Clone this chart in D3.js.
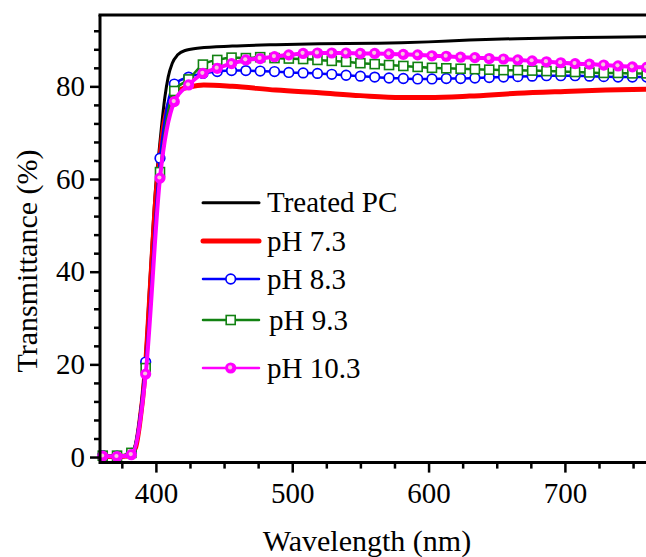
<!DOCTYPE html>
<html>
<head>
<meta charset="utf-8">
<script src="https://cdn.jsdelivr.net/npm/d3@7"></script>
<style>
  html, body { margin: 0; padding: 0; background: #fff; }
  svg { display: block; }
</style>
</head>
<body>
<svg id="chart" width="646" height="557"></svg>
<script>
// ---- data ----
const seriesNames = ["Treated PC", "pH 7.3", "pH 8.3", "pH 9.3", "pH 10.3"];

const wlTreated = [360, 370, 380, 385, 388, 392, 396, 400, 402, 404, 406.5, 409, 412, 416, 422, 432, 456, 488, 520, 560, 580, 600, 630, 665, 700, 730, 760];
const treatedPC = [0.1, 0.1, 0.4, 2.5, 8, 20, 40, 59, 65, 71, 77.5, 82, 85, 86.8, 87.8, 88.3, 88.7, 89.0, 89.2, 89.3, 89.4, 89.6, 90.0, 90.3, 90.5, 90.6, 90.7];

const wlPH73 = [360, 370, 380, 385, 388, 392, 396, 400, 403, 406, 410, 414, 418, 425, 435, 456, 488, 520, 550, 580, 600, 630, 665, 700, 730, 760];
const ph73 = [0.1, 0.1, 0.3, 2, 7, 18, 37, 56, 65, 72, 76.5, 78.5, 79.3, 79.9, 80.3, 80.0, 79.2, 78.6, 78.0, 77.6, 77.6, 77.9, 78.5, 78.9, 79.2, 79.4];

const wlMarked = [361, 371.5, 382, 392.5, 403, 413.5, 424, 434.5, 445, 455.5, 466, 476.5, 487, 497.5, 508, 518.5, 529, 539.5, 550, 560.5, 571, 581.5, 592, 602.5, 613, 623.5, 634, 644.5, 655, 665.5, 676, 686.5, 697, 707.5, 718, 728.5, 739, 749.5, 760];
const ph83 = [0.3, 0.2, 0.8, 20.5, 64.5, 80.5, 82.0, 82.8, 83.2, 83.4, 83.4, 83.3, 83.2, 83.0, 82.9, 82.8, 82.6, 82.4, 82.2, 82.0, 81.8, 81.7, 81.6, 81.6, 81.7, 81.7, 81.8, 81.9, 82.0, 82.1, 82.2, 82.3, 82.3, 82.3, 82.2, 82.1, 82.0, 82.0, 82.0];
const ph93 = [0.3, 0.3, 0.9, 19.2, 61.5, 79.0, 81.5, 84.7, 85.7, 86.2, 86.1, 86.3, 86.1, 86.0, 85.9, 85.7, 85.5, 85.3, 85.0, 84.8, 84.6, 84.4, 84.2, 84.0, 83.9, 83.8, 83.7, 83.6, 83.5, 83.5, 83.4, 83.3, 83.2, 83.1, 83.0, 82.9, 82.9, 82.8, 82.8];
const ph103 = [0.2, 0.1, 0.5, 17.9, 60.2, 76.7, 80.3, 82.8, 83.9, 84.9, 85.7, 86.0, 86.4, 86.8, 87.1, 87.2, 87.2, 87.2, 87.1, 87.1, 87.0, 86.9, 86.8, 86.6, 86.5, 86.3, 86.2, 86.0, 85.9, 85.7, 85.5, 85.3, 85.1, 84.9, 84.8, 84.6, 84.4, 84.2, 84.1];

const xMajorTicks = [400, 500, 600, 700];
const xMinorTicks = [375, 425, 450, 475, 525, 550, 575, 625, 650, 675, 725, 750];
const yMajorTicks = [0, 20, 40, 60, 80];
const yMinorTicks = [4, 8, 12, 16, 24, 28, 32, 36, 44, 48, 52, 56, 64, 68, 72, 76, 84, 88, 92];

const xTitle = "Wavelength (nm)";
const yTitle = "Transmittance (%)";

const FONT = "'Liberation Serif', Tinos, 'Nimbus Roman', 'Times New Roman', 'DejaVu Serif', serif";

// ---- layout ----
const svg = d3.select("#chart");
const padL = 100, padT = 15, axisY = 462.6, rightPx = 646.7;
const x = d3.scaleLinear().domain([359, 760]).range([padL, rightPx]);
const y = d3.scaleLinear().domain([-1.2, 95.4]).range([axisY, padT]);

svg.append("defs").append("clipPath").attr("id", "plotClip")
  .append("rect").attr("x", padL - 8).attr("y", padT).attr("width", 646 - padL + 8).attr("height", axisY - padT);

const plot = svg.append("g").attr("clip-path", "url(#plotClip)");

const lineGen = (xs) => d3.line()
  .x((d, i) => x(xs[i]))
  .y(d => y(d))
  .curve(d3.curveMonotoneX);

const colors = { treated: "#000000", ph73: "#ff0000", ph83: "#0000ff", ph93: "#128212", ph103: "#ff00ff" };

// Treated PC
plot.append("path").datum(treatedPC).attr("d", lineGen(wlTreated))
  .attr("fill", "none").attr("stroke", colors.treated).attr("stroke-width", 3);
// pH 7.3
plot.append("path").datum(ph73).attr("d", lineGen(wlPH73))
  .attr("fill", "none").attr("stroke", colors.ph73).attr("stroke-width", 5);

function circleOpen(g, cx, cy, col) {
  g.append("circle").attr("cx", cx).attr("cy", cy).attr("r", 4.8)
    .attr("fill", "#fff").attr("stroke", col).attr("stroke-width", 1.7);
}
function squareOpen(g, cx, cy, col) {
  g.append("rect").attr("x", cx - 4.5).attr("y", cy - 4.5).attr("width", 9).attr("height", 9)
    .attr("fill", "#fff").attr("stroke", col).attr("stroke-width", 1.6);
}
function ball(g, cx, cy, col) {
  g.append("circle").attr("cx", cx).attr("cy", cy).attr("r", 5.6).attr("fill", col);
  g.append("circle").attr("cx", cx - 0.6).attr("cy", cy - 0.6).attr("r", 2.1).attr("fill", "#f6c3dc");
}

const marked = [
  { vals: ph83, col: colors.ph83, w: 2.5, mk: circleOpen },
  { vals: ph93, col: colors.ph93, w: 2.5, mk: squareOpen },
  { vals: ph103, col: colors.ph103, w: 4, mk: ball }
];
marked.forEach(s => {
  plot.append("path").datum(s.vals).attr("d", lineGen(wlMarked))
    .attr("fill", "none").attr("stroke", s.col).attr("stroke-width", s.w);
  const mg = plot.append("g");
  s.vals.forEach((v, i) => s.mk(mg, x(wlMarked[i]), y(v), s.col));
});

// ---- axes ----
const axisG = svg.append("g");
// bottom axis
const xAxis = d3.axisBottom(x).tickValues(xMajorTicks).tickSize(10).tickPadding(10).tickFormat(d3.format("d"));
const xa = axisG.append("g").attr("transform", `translate(0,${axisY})`).call(xAxis);
xa.select(".domain").remove();
xa.selectAll(".tick line").attr("stroke", "#000").attr("stroke-width", 2.5);
xa.selectAll(".tick text").attr("font-size", 29).style("font-family", FONT).attr("fill", "#000").attr("dy", "0.71em").attr("y", 20);
const xaMinor = d3.axisBottom(x).tickValues(xMinorTicks).tickSize(6).tickFormat("");
const xm = axisG.append("g").attr("transform", `translate(0,${axisY})`).call(xaMinor);
xm.select(".domain").remove();
xm.selectAll(".tick line").attr("stroke", "#000").attr("stroke-width", 2.5);

// left axis
const yAxis = d3.axisLeft(y).tickValues(yMajorTicks).tickSize(10).tickPadding(5).tickFormat(d3.format("d"));
const ya = axisG.append("g").attr("transform", `translate(${padL},0)`).call(yAxis);
ya.select(".domain").remove();
ya.selectAll(".tick line").attr("stroke", "#000").attr("stroke-width", 2.5);
ya.selectAll(".tick text").attr("font-size", 29).style("font-family", FONT).attr("fill", "#000").attr("x", -15);
const yaMinor = d3.axisLeft(y).tickValues(yMinorTicks).tickSize(6).tickFormat("");
const ym = axisG.append("g").attr("transform", `translate(${padL},0)`).call(yaMinor);
ym.select(".domain").remove();
ym.selectAll(".tick line").attr("stroke", "#000").attr("stroke-width", 2.5);

// frame lines (left, bottom, top)
svg.append("line").attr("x1", padL).attr("x2", 646).attr("y1", axisY).attr("y2", axisY).attr("stroke", "#000").attr("stroke-width", 3);
svg.append("line").attr("x1", padL).attr("x2", padL).attr("y1", padT).attr("y2", axisY + 1.5).attr("stroke", "#000").attr("stroke-width", 3);
svg.append("line").attr("x1", padL - 1.5).attr("x2", 646).attr("y1", padT).attr("y2", padT).attr("stroke", "#000").attr("stroke-width", 3);

// titles
svg.append("text").attr("x", 367).attr("y", 551).attr("text-anchor", "middle").attr("font-size", 30).style("font-family", FONT).text(xTitle);
svg.append("text").attr("transform", "translate(37,261) rotate(-90)").attr("text-anchor", "middle").attr("font-size", 30).style("font-family", FONT).text(yTitle);

// ---- legend ----
const legendRows = [
  { name: seriesNames[0], yy: 202.7, col: colors.treated, w: 3, mk: null },
  { name: seriesNames[1], yy: 241, col: colors.ph73, w: 5, mk: null },
  { name: seriesNames[2], yy: 279, col: colors.ph83, w: 2.5, mk: circleOpen },
  { name: seriesNames[3], yy: 320, col: colors.ph93, w: 2.5, mk: squareOpen },
  { name: seriesNames[4], yy: 368, col: colors.ph103, w: 2.5, mk: ball }
];
const lg = svg.append("g");
legendRows.forEach((r, i) => {
  lg.append("line").attr("x1", 203).attr("x2", 259).attr("y1", r.yy).attr("y2", r.yy)
    .attr("stroke", r.col).attr("stroke-width", r.w).attr("stroke-linecap", "round");
  if (r.mk) r.mk(lg, 230.7, r.yy, r.col);
  lg.append("text").attr("x", i === 3 ? 269 : 267).attr("y", r.yy + 9.5).attr("font-size", 29).style("font-family", FONT).text(r.name);
});
</script>
</body>
</html>
